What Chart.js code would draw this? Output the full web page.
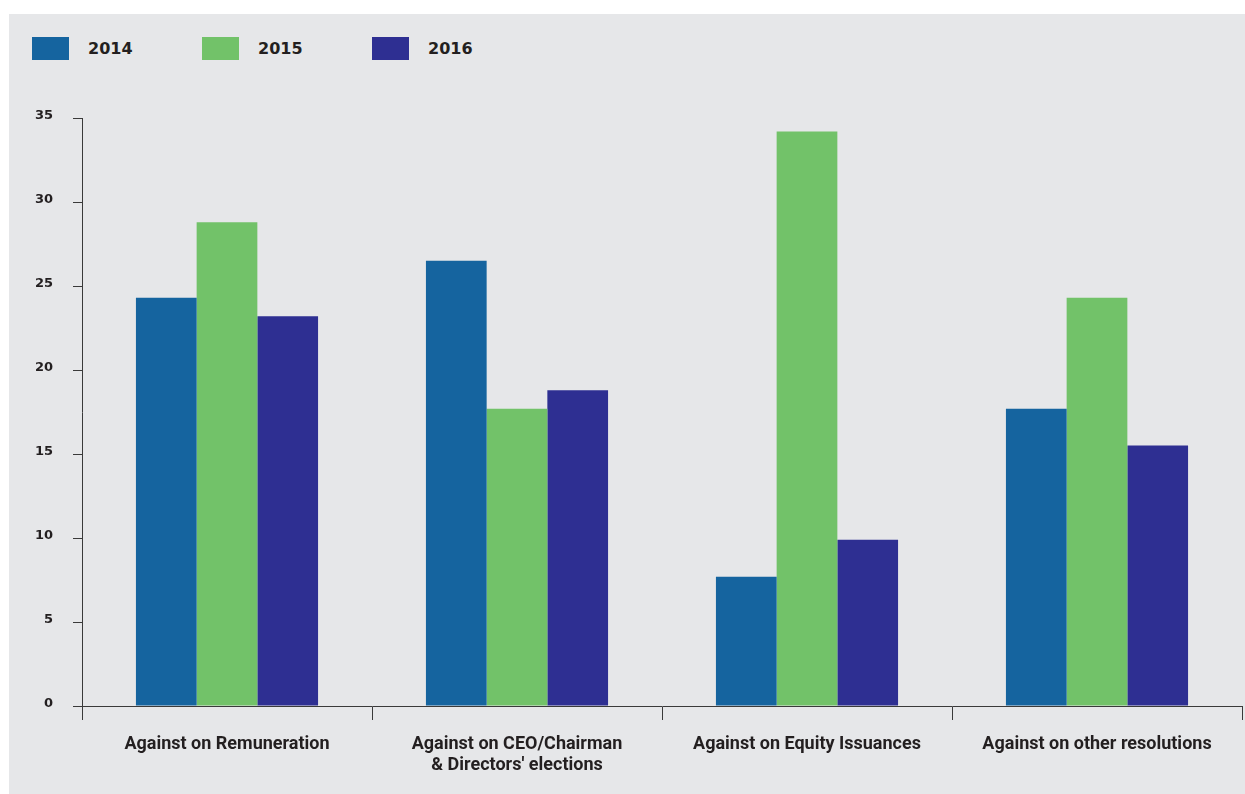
<!DOCTYPE html>
<html lang="en">

<head>
    <meta charset="UTF-8">
    <title>Votes against</title>
    <script src="https://cdn.jsdelivr.net/npm/chart.js"></script>

    <style>
        body {
            margin: 0;
            background: #fff;
        }

        #panel {
            position: absolute;
            left: 9px;
            top: 14px;
            width: 1236px;
            height: 780px;
            background: #e6e7e9;
        }

        #legend {
            position: absolute;
            left: 23px;
            top: 23px;
            display: flex;
            font-family: "DejaVu Sans", sans-serif;
            font-weight: bold;
            font-size: 16px;
            color: #231f20;
        }

        .item {
            width: 170px;
            display: flex;
            align-items: center;
        }

        .swatch {
            width: 37px;
            height: 23px;
            margin-right: 19px;
        }

        #myChart {
            position: absolute;
            left: 0;
            top: 0;
        }
    </style>
</head>

<body>
    <div id="panel">
        <div id="legend"></div>
        <canvas id="myChart" width="1236" height="780"></canvas>
    </div>

    <script>
        const categories = [
            'Against on Remuneration',
            ['Against on CEO/Chairman', "& Directors' elections"],
            'Against on Equity Issuances',
            'Against on other resolutions'
        ];
        const years = ['2014', '2015', '2016'];
        const values2014 = [24.3, 26.5, 7.7, 17.7];
        const values2015 = [28.8, 17.7, 34.2, 24.3];
        const values2016 = [23.2, 18.8, 9.9, 15.5];
        const yTicks = [0, 5, 10, 15, 20, 25, 30, 35];

        const colors = ['#15649f', '#72c269', '#2e2f92'];
        const ink = '#231f20';

        const ctx = document.getElementById('myChart');

        const chart = new Chart(ctx, {
            type: 'bar',
            data: {
                labels: categories,
                datasets: [values2014, values2015, values2016].map((v, i) => ({
                    label: years[i],
                    data: v,
                    backgroundColor: colors[i],
                    borderWidth: 0,
                    categoryPercentage: 0.628,
                    barPercentage: 1
                }))
            },
            options: {
                responsive: false,
                animation: false,
                layout: {
                    padding: { top: 104, right: 3, left: 0, bottom: 0 }
                },
                plugins: {
                    legend: { display: false },
                    tooltip: { enabled: false }
                },
                scales: {
                    y: {
                        min: yTicks[0],
                        max: yTicks[yTicks.length - 1],
                        afterBuildTicks: (axis) => {
                            axis.ticks = yTicks.map(v => ({ value: v }));
                        },
                        afterFit: (axis) => { axis.width = 73; },
                        grid: {
                            drawOnChartArea: false,
                            drawTicks: true,
                            tickLength: 9,
                            color: '#3a3a3a',
                            lineWidth: 1
                        },
                        border: { color: '#3a3a3a', width: 1 },
                        ticks: {
                            padding: 20,
                            labelOffset: -2,
                            color: ink,
                            font: { family: 'DejaVu Sans', weight: 'bold', size: 13 }
                        }
                    },
                    x: {
                        afterFit: (axis) => { axis.height = 88; },
                        grid: {
                            offset: true,
                            drawOnChartArea: false,
                            drawTicks: true,
                            tickLength: 14,
                            color: '#3a3a3a',
                            lineWidth: 1
                        },
                        border: { color: '#3a3a3a', width: 1 },
                        ticks: {
                            padding: 14,
                            maxRotation: 0,
                            color: ink,
                            font: { family: 'Roboto', weight: 'bold', size: 18, lineHeight: 1.17 }
                        }
                    }
                }
            }
        });

        // html legend from the chart's own datasets
        const legend = document.getElementById('legend');
        chart.data.datasets.forEach(ds => {
            const item = document.createElement('div');
            item.className = 'item';
            const sw = document.createElement('span');
            sw.className = 'swatch';
            sw.style.background = ds.backgroundColor;
            const txt = document.createElement('span');
            txt.textContent = ds.label;
            item.appendChild(sw);
            item.appendChild(txt);
            legend.appendChild(item);
        });
    </script>
</body>

</html>
